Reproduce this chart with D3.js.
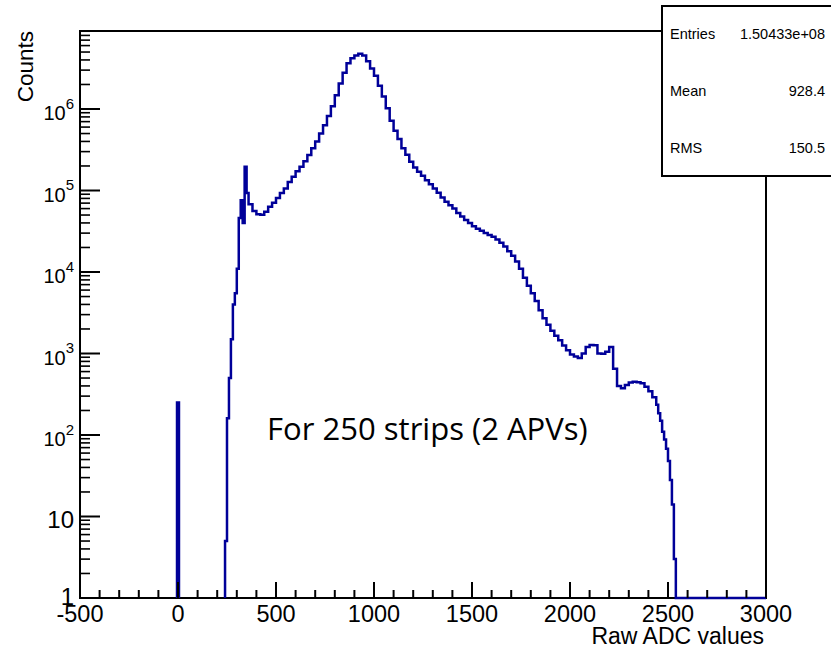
<!DOCTYPE html>
<html>
<head>
<meta charset="utf-8">
<script src="https://cdn.jsdelivr.net/npm/d3@7"></script>
<style>
  body { margin: 0; background: #fff; }
  svg { display: block; }
</style>
</head>
<body>
<svg id="chart" width="831" height="649"></svg>
<script>
// histogram content (Raw ADC values, counts per bin)
const zeroBin = [-5, 5, 250];

const riseStart = 240, riseWidth = 10;
const riseCounts = [5, 160, 500, 1500, 4000, 5500, 11000, 46000, 76000, 40000, 196000, 93000];

const bodyStart = 360, bodyWidth = 20;
const bodyCounts = [
  68000, 56000, 51000, 50500, 55000, 63000, 71000, 81000, 93000, 106000, 127000,
  148000, 172000, 195000, 228000, 272000, 330000, 400000, 500000, 630000, 820000, 1080000,
  1480000, 2050000, 2780000, 3650000, 4200000, 4550000, 4750000, 4550000, 3850000, 3150000, 2550000,
  1930000, 1420000, 1020000, 720000, 540000, 430000, 330000, 275000, 225000, 192000, 170000,
  152000, 134000, 119000, 106000, 94000, 82000, 73000, 66000, 60000, 53000, 48000,
  43500, 40000, 36500, 34000, 32000, 30000, 28500, 27000, 25000, 22800, 20500,
  18000, 15800, 13500, 11000, 8500, 6800, 5500, 4400, 3400, 2700, 2250,
  1900, 1650, 1450, 1250, 1100, 970, 920, 880, 1000, 1200, 1270,
  1260, 1000, 990, 1050, 1200, 650, 400, 375, 411, 440, 451,
  445, 431, 390, 345, 290
];

const tailStart = 2440, tailWidth = 10;
const tailCounts = [235, 185, 150, 110, 88, 68, 48, 28, 14, 3];

const xTicks = [-500, 0, 500, 1000, 1500, 2000, 2500, 3000];
const yDecades = [0, 1, 2, 3, 4, 5, 6];
const statRows = [["Entries", "1.50433e+08"], ["Mean", "928.4"], ["RMS", "150.5"]];

const font = "'Liberation Sans', Arial, Helvetica, sans-serif";
const lineColor = "#000099";

const svg = d3.select("#chart");
const x = d3.scaleLinear().domain([-500, 3000]).range([80, 766]);
const y = d3.scaleLog().domain([1, 9.06e6]).range([598, 31]);

// build the bin list
const bins = [];
riseCounts.forEach((c, i) => bins.push([riseStart + i * riseWidth, riseStart + (i + 1) * riseWidth, c]));
bodyCounts.forEach((c, i) => bins.push([bodyStart + i * bodyWidth, bodyStart + (i + 1) * bodyWidth, c]));
tailCounts.forEach((c, i) => bins.push([tailStart + i * tailWidth, tailStart + (i + 1) * tailWidth, c]));

// frame
svg.append("rect")
  .attr("x", x(-500)).attr("y", y.range()[1])
  .attr("width", x(3000) - x(-500)).attr("height", y(1) - y.range()[1])
  .attr("fill", "none").attr("stroke", "#000").attr("stroke-width", 2);

// histogram outline
const p = d3.path();
p.moveTo(x(zeroBin[0]), y(1));
p.lineTo(x(zeroBin[0]), y(zeroBin[2]));
p.lineTo(x(zeroBin[1]), y(zeroBin[2]));
p.lineTo(x(zeroBin[1]), y(1));
p.moveTo(x(bins[0][0]), y(1));
bins.forEach(b => {
  p.lineTo(x(b[0]), y(Math.max(b[2], 1)));
  p.lineTo(x(b[1]), y(Math.max(b[2], 1)));
});
p.lineTo(x(bins[bins.length - 1][1]), y(1));
p.lineTo(x(3000), y(1));

svg.append("path")
  .attr("d", p.toString())
  .attr("fill", "none")
  .attr("stroke", lineColor)
  .attr("stroke-width", 2.5)
  .attr("stroke-linejoin", "miter");

// x ticks
const gx = svg.append("g");
d3.range(-500, 3001, 100).forEach(v => {
  const major = v % 500 === 0;
  gx.append("line")
    .attr("x1", x(v)).attr("x2", x(v))
    .attr("y1", y(1)).attr("y2", y(1) - (major ? 16 : 8))
    .attr("stroke", "#000").attr("stroke-width", 2);
});
xTicks.forEach(v => {
  gx.append("text")
    .attr("x", x(v)).attr("y", 622)
    .attr("text-anchor", "middle")
    .attr("font-family", font).attr("font-size", 23.5)
    .text(v);
});
gx.append("text")
  .attr("x", 764).attr("y", 644)
  .attr("text-anchor", "end")
  .attr("font-family", font).attr("font-size", 23)
  .text("Raw ADC values");

// y ticks
const gy = svg.append("g");
const ymax = y.domain()[1];
yDecades.forEach(k => {
  const d = Math.pow(10, k);
  gy.append("line")
    .attr("x1", x(-500)).attr("x2", x(-500) + 20)
    .attr("y1", y(d)).attr("y2", y(d))
    .attr("stroke", "#000").attr("stroke-width", 2);
  for (let m = 2; m <= 9; m++) {
    if (d * m > ymax) break;
    gy.append("line")
      .attr("x1", x(-500)).attr("x2", x(-500) + 10)
      .attr("y1", y(d * m)).attr("y2", y(d * m))
      .attr("stroke", "#000").attr("stroke-width", 1.6);
  }
  const t = gy.append("text")
    .attr("x", 74).attr("text-anchor", "end")
    .attr("font-family", font);
  if (k < 2) {
    t.attr("y", y(d) + (k === 0 ? 7 : 11)).attr("font-size", 24).text(k === 0 ? "1" : "10");
  } else {
    t.attr("y", y(d) + 11);
    t.append("tspan").attr("font-size", 20).text("10");
    t.append("tspan").attr("font-size", 15).attr("dy", -11.5).text(k);
  }
});
gy.append("text")
  .attr("transform", "translate(33,31) rotate(-90)")
  .attr("text-anchor", "end")
  .attr("font-family", font).attr("font-size", 22.5)
  .text("Counts");

// annotation
const note = svg.append("text")
  .attr("x", 267).attr("y", 440)
  .attr("font-family", "'Open Sans', 'Noto Sans', sans-serif")
  .attr("font-size", 30)
  .text("For 250 strips (2 APVs)");
const w = note.node().getComputedTextLength();
note.attr("font-size", 30 * 321 / w);

// stats box
const gs = svg.append("g");
gs.append("rect")
  .attr("x", 662).attr("y", 6).attr("width", 200).attr("height", 170)
  .attr("fill", "#fff").attr("stroke", "#000").attr("stroke-width", 2);
statRows.forEach((r, i) => {
  const yy = 39 + i * 57;
  gs.append("text").attr("x", 670).attr("y", yy)
    .attr("font-family", font).attr("font-size", 14.5).text(r[0]);
  gs.append("text").attr("x", 825).attr("y", yy).attr("text-anchor", "end")
    .attr("font-family", font).attr("font-size", 14.5).text(r[1]);
});
</script>
</body>
</html>
